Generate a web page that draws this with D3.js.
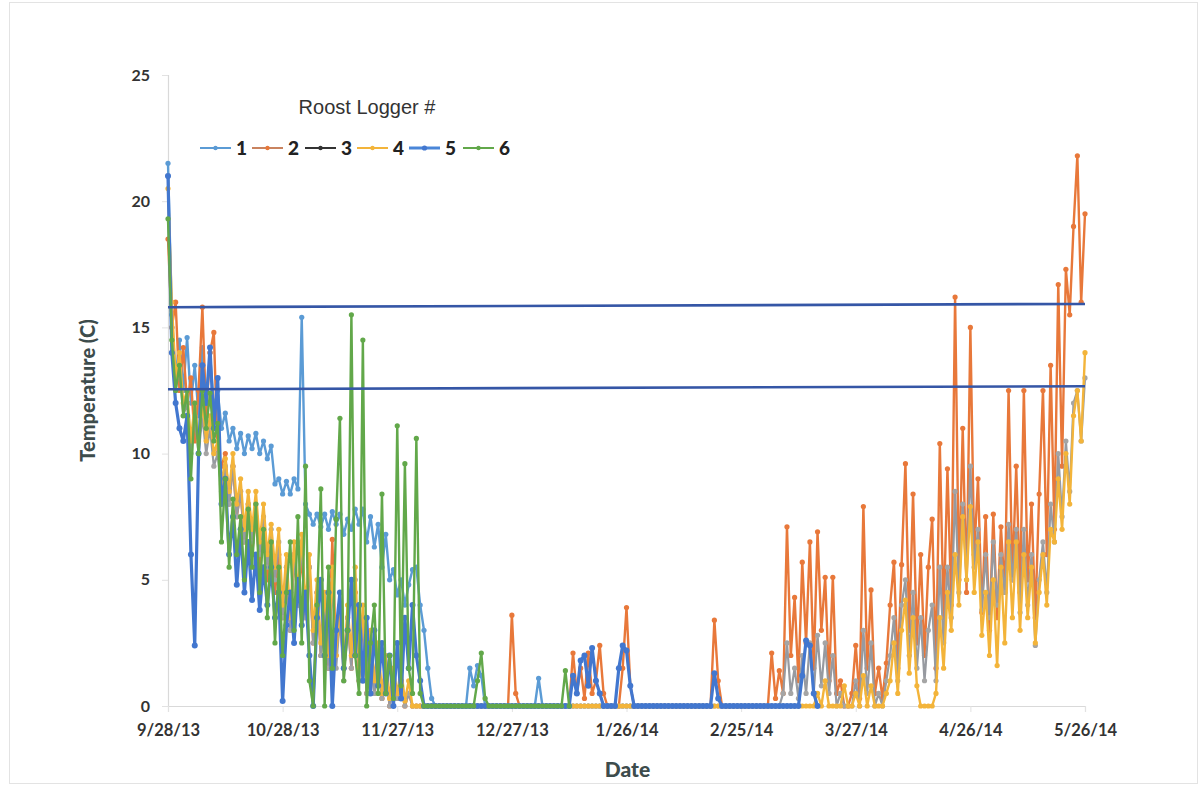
<!DOCTYPE html>
<html>
<head>
<meta charset="utf-8">
<script src="https://cdn.jsdelivr.net/npm/d3@7"></script>
<style>
  html, body { margin: 0; padding: 0; background: #fff; }
  svg { display: block; }
</style>
</head>
<body>
<svg id="chart" width="1204" height="786"></svg>
<script>
// ---------- DATA (daily readings, first value = 9/28/13) ----------
const seriesNames = ["1", "2", "3", "4", "5", "6"];
const tickLabels = ["9/28/13", "10/28/13", "11/27/13", "12/27/13", "1/26/14", "2/25/14", "3/27/14", "4/26/14", "5/26/14"];
const yTicks = [0, 5, 10, 15, 20, 25];
const upperLine = [15.8, 15.93];
const lowerLine = [12.55, 12.67];

const logger1 = [
  21.5, 15.5, 13.0, 14.5, 12.5, 14.6, 12.0, 13.5, 11.5, 14.2,
  12.0, 14.0, 11.8, 12.5, 11.0, 11.6, 10.5, 11.0, 10.2, 10.8,
  10.0, 10.7, 10.2, 10.8, 10.0, 10.5, 9.8, 10.3, 8.8, 9.0,
  8.4, 8.9, 8.4, 9.0, 8.6, 15.4, 8.0, 7.6, 7.2, 7.6,
  7.1, 7.6, 7.0, 7.7, 7.2, 7.6, 6.8, 7.4, 7.0, 7.8,
  7.2, 7.8, 6.5, 7.5, 6.3, 7.2, 5.5, 6.8, 5.0, 5.4,
  4.4, 5.0, 4.0, 4.8, 5.4, 5.5, 4.0, 3.0, 1.5, 0.3,
  0, 0, 0, 0, 0, 0, 0, 0, 0, 1.5,
  0.8, 1.6, 1.2, 0, 0, 0, 0, 0, 0, 0,
  0, 0, 0, 0, 0, 0, 0, 1.1, 0, 0,
  0, 0, 0, 0, 0, 0, 0, 0, 0, 0,
  0, 0, 0, 0, 0, 0, 0, 0, 0, 0,
  0, 0, 0
];

const logger2 = [
  18.5, 15.0, 16.0, 12.5, 14.2, 12.0, 13.0, 10.5, 12.5, 15.8,
  11.5, 14.0, 14.8, 10.0, 9.5, 10.0, 8.0, 9.5, 7.5, 8.5,
  6.5, 8.0, 6.0, 7.5, 5.5, 7.0, 5.0, 6.5, 4.5, 6.0,
  3.5, 5.5, 3.0, 6.0, 4.0, 6.0, 3.5, 5.5, 2.5, 4.5,
  2.0, 4.0, 1.5, 6.6, 2.0, 3.5, 1.5, 3.5, 1.5, 4.5,
  1.0, 3.5, 0.5, 2.5, 0.5, 2.0, 0.3, 1.5, 0, 1.0,
  0.3, 1.0, 0, 0.5, 0, 0, 0, 0, 0, 0,
  0, 0, 0, 0, 0, 0, 0, 0, 0, 0,
  0, 0, 0, 0, 0, 0, 0, 0, 0, 0,
  3.6, 0.5, 0, 0, 0, 0, 0, 0, 0, 0,
  0, 0, 0, 0, 0, 0, 2.1, 0.5, 1.5, 0.3,
  2.1, 0.5, 1.0, 2.4, 0.5, 0, 0, 0, 0, 1.5,
  3.9, 0.8, 0, 0, 0, 0, 0, 0, 0, 0,
  0, 0, 0, 0, 0, 0, 0, 0, 0, 0,
  0, 0, 0, 3.4, 1.0, 0, 0, 0, 0, 0,
  0, 0, 0, 0, 0, 0, 0, 0, 2.1, 0.3,
  1.4, 0.5, 7.1, 2.0, 4.3, 1.0, 5.7, 2.5, 6.5, 1.5,
  6.9, 3.0, 5.1, 1.0, 5.1, 0.5, 1.0, 0, 0, 0.5,
  2.4, 0.3, 7.9, 1.5, 4.6, 0.5, 1.5, 0.3, 1.7, 4.0,
  5.7, 1.5, 5.6, 9.6, 3.0, 8.4, 2.5, 6.0, 2.0, 5.5,
  7.4, 1.5, 10.4, 3.5, 9.4, 4.0, 16.2, 5.0, 11.0, 4.5,
  15.0, 6.0, 9.0, 3.7, 7.5, 3.0, 7.6, 3.5, 7.1, 4.5,
  12.5, 5.0, 9.5, 4.5, 12.5, 5.0, 8.0, 3.5, 8.4, 12.5,
  6.0, 13.5, 7.0, 16.7, 9.5, 17.3, 15.5, 19.0, 21.8, 16.0,
  19.5
];

const logger3 = [
  21.0, 15.0, 12.5, 13.5, 11.5, 12.0, 10.0, 11.5, 10.0, 11.5,
  10.0, 11.0, 9.5, 10.0, 8.5, 9.5, 8.0, 9.5, 7.5, 8.5,
  6.5, 8.0, 6.5, 8.0, 6.0, 7.5, 5.5, 7.0, 5.0, 6.5,
  3.5, 5.5, 3.0, 6.0, 4.0, 6.5, 3.5, 5.5, 2.5, 4.5,
  2.0, 4.0, 1.5, 5.0, 1.5, 3.5, 1.0, 3.5, 1.5, 5.0,
  1.0, 3.5, 0.5, 2.5, 0.5, 2.0, 0.3, 1.5, 0, 1.0,
  0.3, 1.0, 0, 0.5, 0, 0, 0, 0, 0, 0,
  0, 0, 0, 0, 0, 0, 0, 0, 0, 0,
  0, 0, 0, 0, 0, 0, 0, 0, 0, 0,
  0, 0, 0, 0, 0, 0, 0, 0, 0, 0,
  0, 0, 0, 0, 0, 0, 0, 0, 0, 0,
  0, 0, 0, 0, 0, 0, 0, 0, 0, 0,
  0, 0, 0, 0, 0, 0, 0, 0, 0, 0,
  0, 0, 0, 0, 0, 0, 0, 0, 0, 0,
  0, 0, 0, 0, 0, 0, 0, 0, 0, 0,
  0, 0, 0, 0, 0, 0, 0, 0, 0, 0,
  0, 0.5, 2.5, 0.5, 1.5, 0.3, 2.0, 0.5, 2.5, 0.5,
  2.8, 0.8, 2.5, 0.5, 2.0, 0, 0.5, 0, 0, 0,
  1.0, 0, 3.0, 0.5, 2.5, 0, 0.5, 0, 1.0, 2.0,
  3.5, 1.0, 4.0, 5.0, 2.0, 4.5, 1.5, 3.5, 1.0, 3.0,
  4.0, 1.0, 5.5, 2.5, 5.5, 3.5, 8.5, 4.5, 8.0, 5.0,
  9.5, 5.5, 7.0, 3.8, 6.0, 3.5, 6.5, 4.0, 6.0, 4.5,
  7.2, 5.0, 7.0, 3.7, 7.0, 4.0, 6.0, 2.4, 5.0, 6.5,
  4.5, 8.0, 6.5, 10.0, 7.5, 10.5, 8.5, 12.0, 12.5, 10.5,
  13.0
];

const logger4 = [
  20.5, 16.0, 13.0, 14.0, 12.0, 12.5, 10.5, 12.0, 10.5, 12.0,
  10.5, 11.5, 10.0, 10.5, 8.8, 9.8, 8.5, 10.0, 8.0, 9.0,
  7.0, 8.5, 7.0, 8.5, 6.5, 8.0, 6.0, 7.2, 5.5, 7.0,
  4.0, 6.0, 3.5, 6.5, 4.5, 6.8, 4.0, 6.0, 3.0, 5.0,
  2.5, 4.5, 2.0, 5.5, 2.0, 4.0, 1.5, 4.0, 2.0, 5.5,
  1.5, 4.0, 1.0, 3.0, 1.0, 2.5, 0.5, 2.0, 0.3, 1.5,
  0.5, 1.5, 0.2, 1.0, 0, 0, 0, 0, 0, 0,
  0, 0, 0, 0, 0, 0, 0, 0, 0, 0,
  0, 0, 0, 0, 0, 0, 0, 0, 0, 0,
  0, 0, 0, 0, 0, 0, 0, 0, 0, 0,
  0, 0, 0, 0, 0, 0, 0, 0, 0, 0,
  0, 0, 0, 0, 0, 0, 0, 0, 0, 0,
  0, 0, 0, 0, 0, 0, 0, 0, 0, 0,
  0, 0, 0, 0, 0, 0, 0, 0, 0, 0,
  0, 0, 0, 0, 0, 0, 0, 0, 0, 0,
  0, 0, 0, 0, 0, 0, 0, 0, 0, 0,
  0, 0, 0, 0, 0, 0, 0, 0, 0, 0,
  0.5, 0, 1.0, 0, 0, 0, 0, 0.8, 0, 0,
  0.5, 0, 1.2, 0, 0.8, 0, 0, 0, 0.5, 1.0,
  2.5, 0.5, 3.0, 4.2, 1.3, 3.5, 0.8, 0, 0, 0,
  0, 0.5, 3.5, 1.5, 4.5, 3.0, 6.0, 4.0, 7.5, 5.0,
  7.9, 4.5, 6.5, 2.8, 4.5, 2.0, 5.0, 1.6, 5.5, 2.5,
  6.5, 3.5, 6.5, 3.0, 6.0, 3.5, 5.5, 2.5, 4.5, 6.0,
  4.0, 7.0, 6.5, 9.0, 7.0, 10.0, 8.0, 11.5, 12.5, 10.5,
  14.0
];

const logger5 = [
  21.0, 14.0, 12.0, 11.0, 10.5, 11.5, 6.0, 2.4, 10.0, 13.5,
  12.0, 14.2, 11.0, 13.0, 8.0, 9.0, 6.0, 7.5, 4.8, 7.0,
  4.5, 6.5, 4.2, 6.0, 3.8, 5.5, 4.0, 5.5, 3.5, 4.5,
  0.2, 3.2, 4.5, 2.5, 5.0, 3.2, 4.5, 2.0, 0, 3.5,
  5.0, 2.0, 4.5, 0, 3.0, 4.5, 1.5, 3.0, 5.0, 2.0,
  4.0, 1.0, 3.5, 0.5, 3.0, 0.8, 2.5, 0.5, 2.0, 0,
  2.5, 0.3, 3.5, 1.5, 4.0, 2.0, 1.0, 0, 0, 0,
  0, 0, 0, 0, 0, 0, 0, 0, 0, 0,
  0, 0, 0, 0, 0, 0, 0, 0, 0, 0,
  0, 0, 0, 0, 0, 0, 0, 0, 0, 0,
  0, 0, 0, 0, 0, 0, 1.2, 0.5, 1.8, 2.0,
  0.8, 2.3, 1.0, 0.5, 0, 0, 0, 0, 1.5, 2.4,
  2.2, 0.8, 0, 0, 0, 0, 0, 0, 0, 0,
  0, 0, 0, 0, 0, 0, 0, 0, 0, 0,
  0, 0, 0, 1.3, 0.3, 0, 0, 0, 0, 0,
  0, 0, 0, 0, 0, 0, 0, 0, 0, 0,
  0, 0, 0, 0, 0, 0, 1.2, 2.6, 2.4, 0.5,
  0
];

const logger6 = [
  19.3, 14.5, 12.5, 13.5, 11.5, 12.5, 9.0, 12.0, 10.0, 12.5,
  11.0, 12.4, 10.5, 11.2, 6.5, 9.0, 5.5, 8.2, 6.0, 7.5,
  5.0, 7.8, 5.5, 8.0, 4.5, 7.0, 3.5, 6.5, 2.5, 5.5,
  2.0, 4.5, 6.5, 3.0, 7.5, 2.5, 9.5, 1.0, 0, 4.0,
  8.6, 0, 5.5, 1.5, 7.4, 11.4, 1.0, 3.0, 15.5, 2.0,
  0.5, 14.5, 0, 2.5, 4.0, 0.5, 8.4, 0.5, 2.0, 0.3,
  11.1, 0.8, 9.6, 1.5, 0.5, 10.6, 0.5, 0, 0, 0,
  0, 0, 0, 0, 0, 0, 0, 0, 0, 0,
  0, 1.0, 2.1, 0.3, 0, 0, 0, 0, 0, 0,
  0, 0, 0, 0, 0, 0, 0, 0, 0, 0,
  0, 0, 0, 0, 1.4, 0
];

const seriesValues = [logger1, logger2, logger3, logger4, logger5, logger6];
const seriesColors = ["#5B9BD5", "#E8783A", "#A5A5A5", "#F3B43A", "#4277CF", "#62A84A"];
const seriesLineColors = ["#5B9BD5", "#E8783A", "#979aa0", "#F3B43A", "#4277CF", "#62A84A"];
const legendLineColors = ["#5B9BD5", "#C9835F", "#333333", "#F3B43A", "#4A86D8", "#62A84A"];
const seriesWidths = [2.4, 2.4, 2.2, 2.4, 3.2, 2.4];

// ---------- CHART ----------
const parse = d3.timeParse("%m/%d/%y");
const fmt = d3.timeFormat("%-m/%-d/%y");
const startDate = parse(tickLabels[0]);
const endDate = parse(tickLabels[tickLabels.length - 1]);

const svg = d3.select("#chart");
const W = 1204, H = 786;
const plot = { left: 168, right: 1085, top: 75, bottom: 706 };

svg.append("rect").attr("x", 9.5).attr("y", 2.5).attr("width", W - 16).attr("height", H - 5)
  .attr("fill", "#fff").attr("stroke", "#e3e3e3").attr("stroke-width", 1);

const x = d3.scaleTime().domain([startDate, endDate]).range([plot.left, plot.right]);
const y = d3.scaleLinear().domain([0, 25]).range([plot.bottom, plot.top]);

// Y axis
const yAxis = svg.append("g").attr("transform", `translate(${plot.left},0)`)
  .call(d3.axisLeft(y).tickValues(yTicks).tickSize(6).tickPadding(12));
yAxis.select(".domain").attr("stroke", "#d9d9d9").attr("stroke-width", 1.2);
yAxis.selectAll(".tick line").attr("stroke", "#e2e2e2");
yAxis.selectAll("text").attr("font-family", "Lato, 'DejaVu Sans', sans-serif")
  .attr("font-weight", "bold").attr("font-size", 16).attr("fill", "#333");

// X axis
const tickDates = tickLabels.map(parse);
const xAxis = svg.append("g").attr("transform", `translate(0,${plot.bottom})`)
  .call(d3.axisBottom(x).tickValues(tickDates).tickFormat(fmt).tickSize(6).tickPadding(12));
xAxis.select(".domain").attr("stroke", "#d9d9d9").attr("stroke-width", 1.2);
xAxis.selectAll(".tick line").attr("stroke", "#e2e2e2");
xAxis.selectAll("text").attr("font-family", "Lato, 'DejaVu Sans', sans-serif")
  .attr("font-weight", "bold").attr("font-size", 16.5).attr("fill", "#333");

// Axis titles
svg.append("text").attr("x", (plot.left + plot.right) / 2 + 1).attr("y", 777)
  .attr("text-anchor", "middle").attr("font-family", "Lato, sans-serif").attr("font-weight", "900")
  .attr("font-size", 21).attr("fill", "#3d4c4c").text("Date");
svg.append("text").attr("transform", `translate(95,${(plot.top + plot.bottom) / 2}) rotate(-90)`)
  .attr("text-anchor", "middle").attr("font-family", "Lato, sans-serif").attr("font-weight", "900")
  .attr("font-size", 20).attr("fill", "#3d4c4c").text("Temperature (C)");

// Series
const line = d3.line()
  .x((d, i) => x(d3.timeDay.offset(startDate, i)))
  .y(d => y(d));

const gSeries = svg.append("g");
seriesValues.forEach((vals, si) => {
  const g = gSeries.append("g");
  g.append("path").datum(vals).attr("d", line)
    .attr("fill", "none").attr("stroke", seriesLineColors[si])
    .attr("stroke-width", seriesWidths[si]).attr("stroke-linejoin", "round");
  g.selectAll("circle").data(vals).join("circle")
    .attr("cx", (d, i) => x(d3.timeDay.offset(startDate, i)))
    .attr("cy", d => y(d))
    .attr("r", si === 4 ? 3 : 2.6)
    .attr("fill", seriesColors[si]);
});

// Threshold lines
const thrLine = d3.line().x((d, i) => x(i === 0 ? startDate : endDate)).y(d => y(d));
[upperLine, lowerLine].forEach(v => {
  svg.append("path").datum(v).attr("d", thrLine)
    .attr("fill", "none").attr("stroke", "#3556A6").attr("stroke-width", 2.6);
});

// Legend
svg.append("text").attr("x", 367).attr("y", 114).attr("text-anchor", "middle")
  .attr("font-family", "'Liberation Sans', Arial, sans-serif").attr("font-size", 20)
  .attr("fill", "#333").text("Roost Logger #");

const legendX = [200, 252, 305, 357, 409, 463];
const legendY = 148;
seriesNames.forEach((name, i) => {
  const lg = svg.append("g").attr("transform", `translate(${legendX[i]},${legendY})`);
  lg.append("line").attr("x1", 0).attr("x2", 31).attr("y1", 0).attr("y2", 0)
    .attr("stroke", legendLineColors[i]).attr("stroke-width", i === 4 ? 3 : 2);
  lg.append("circle").attr("cx", 15.5).attr("cy", 0).attr("r", i === 4 ? 2.6 : 2.2)
    .attr("fill", i === 2 ? "#333" : seriesColors[i]);
  lg.append("text").attr("x", 36).attr("y", 6.5)
    .attr("font-family", "Lato, sans-serif").attr("font-weight", "900").attr("font-size", 19)
    .attr("fill", "#222").text(name);
});
</script>
